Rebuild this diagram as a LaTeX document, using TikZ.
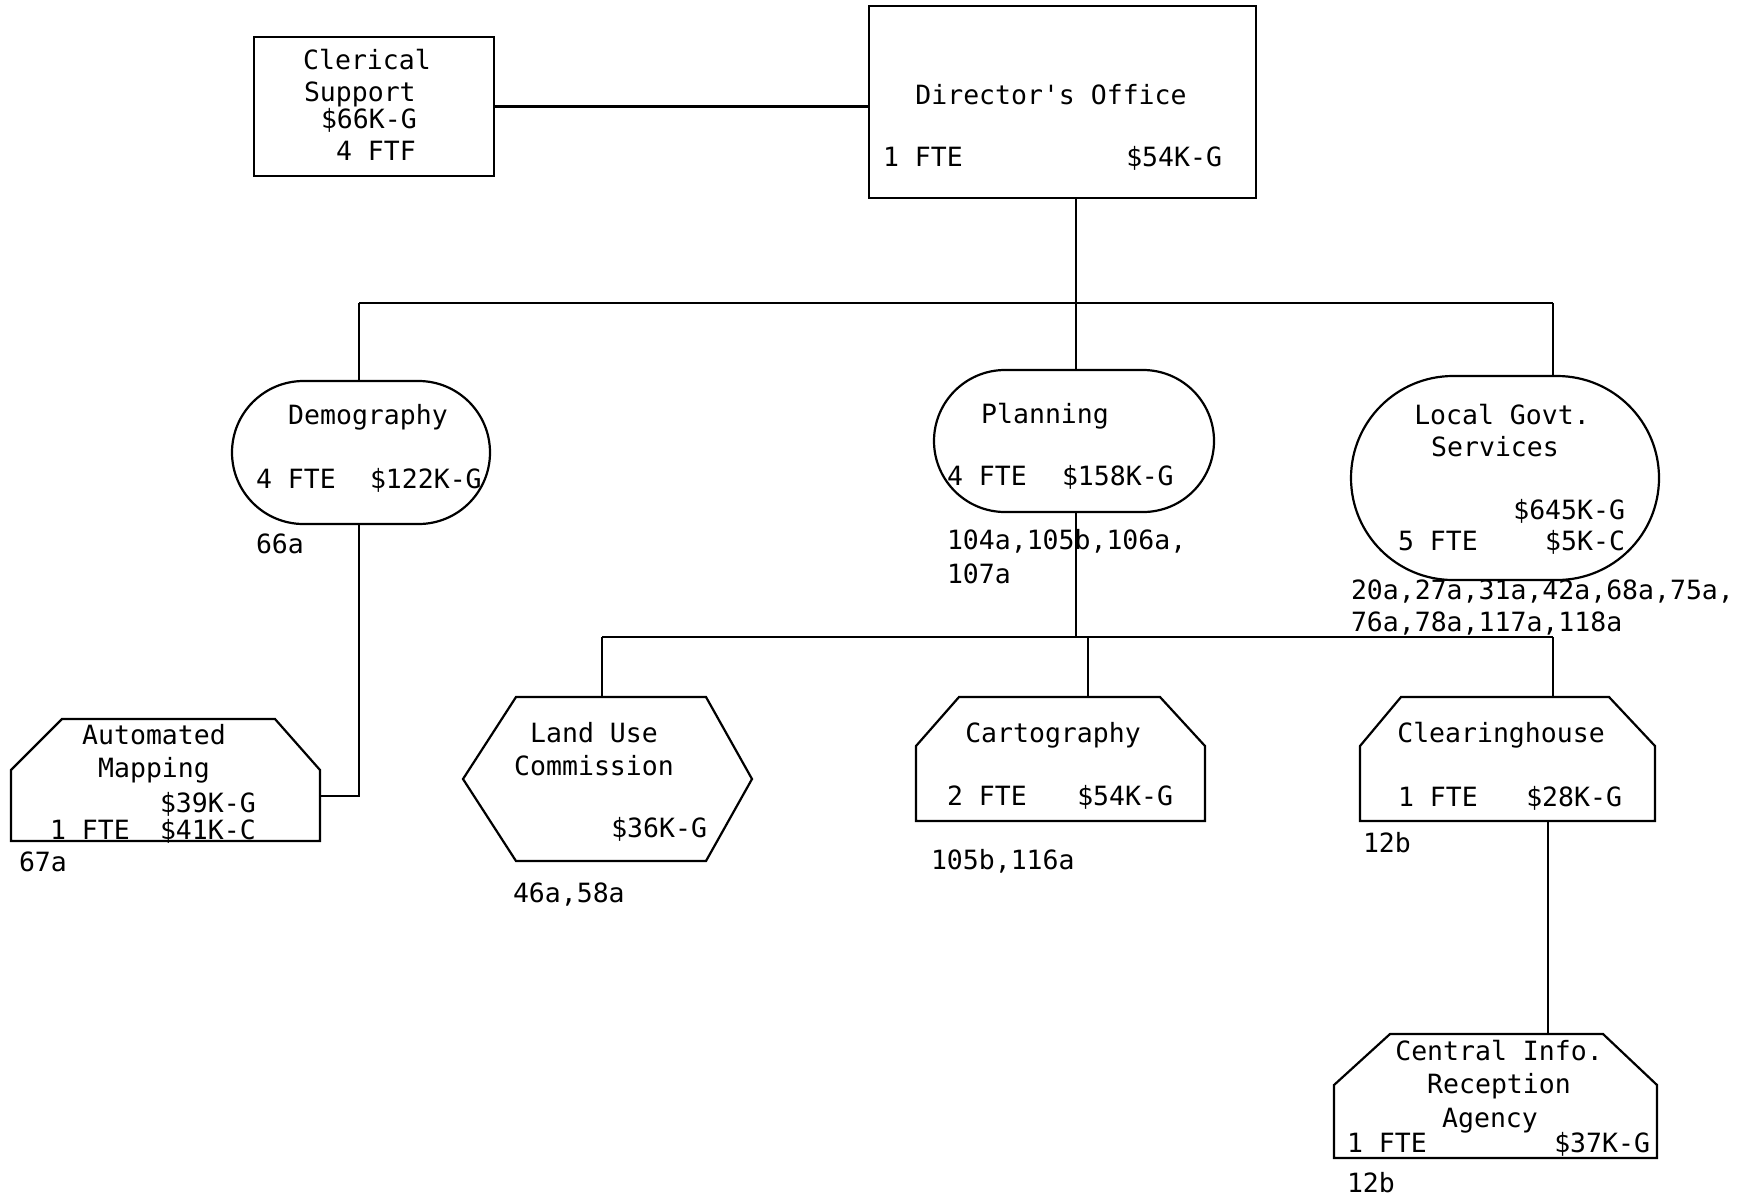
\documentclass[tikz,border=0pt]{standalone}
\usepackage{fontspec}
\setmonofont{DejaVu Sans Mono}
\usetikzlibrary{calc}
\newcommand\chamfbox[4]{\draw ($(#1.north west)+(#2,0)$) -- ($(#1.north east)+(-#3,0)$) -- ($(#1.north east)+(0,#4)$) -- (#1.south east) -- (#1.south west) -- ($(#1.north west)+(0,#4)$) -- cycle;}
\begin{document}
\begin{tikzpicture}[x=1pt,y=-1pt,line width=2.2pt,
  lbl/.style={font=\fontsize{26.5}{30}\selectfont\ttfamily,inner sep=0pt,outer sep=0pt},
  area/.style 2 args={minimum width=#1,minimum height=#2,inner sep=0pt,outer sep=0pt,draw=none},
  rbox/.style 2 args={minimum width=#1,minimum height=#2,inner sep=0pt,outer sep=0pt,draw},
  stad/.style n args={3}{minimum width=#1,minimum height=#2,inner sep=0pt,outer sep=0pt,draw,rounded corners=#3}]
\fill[white] (0,0) rectangle (1758,1195);
\useasboundingbox (0,0) rectangle (1758,1195);

% boxes
\node[rbox={240}{139}] (cler) at (374,106.5) {};
\node[rbox={387}{192}] (dir) at (1062.5,102) {};
\node[stad={258}{143}{71.5pt}] (demo) at (361,452.5) {};
\node[stad={280}{142}{71pt}] (plan) at (1074,441) {};
\node[stad={308}{204}{102pt}] (local) at (1505,478) {};
\node[area={309}{122}] (map) at (165.5,780) {};
\node[area={289}{164}] (land) at (607.5,779) {};
\node[area={289}{124}] (cart) at (1060.5,759) {};
\node[area={295}{124}] (clear) at (1507.5,759) {};
\node[area={323}{124}] (cent) at (1495.5,1096) {};

\chamfbox{map}{51}{45}{51}
\chamfbox{cart}{43}{45}{49}
\chamfbox{clear}{41}{46}{49}
\chamfbox{cent}{56}{54}{51}
\draw ($(land.north west)+(53,0)$) -- ($(land.north east)+(-46,0)$) -- (land.east) -- ($(land.south east)+(-46,0)$) -- ($(land.south west)+(53,0)$) -- (land.west) -- cycle;

% connectors
\coordinate (b1l) at (359,303);
\coordinate (b1m) at (1076,303);
\coordinate (b1r) at (1553,303);
\coordinate (b2l) at (602,637);
\coordinate (b2m) at (1076,637);
\coordinate (b2c) at (1088,637);
\coordinate (b2r) at (1553,637);
\coordinate (cdrop) at (1548,930);
\coordinate (dcorner) at (359,796);

\draw (cler.east) -- (cler.east -| dir.west);
\draw (dir.south -| b1m) -- (plan.north -| b1m);
\draw (b1l) -- (b1r);
\draw (b1l) -- (demo.north -| b1l);
\draw (b1r) -- (local.north -| b1r);
\draw (plan.south -| b2m) -- (b2m);
\draw (b2l) -- (b2r);
\draw (b2l) -- (land.north -| b2l);
\draw (b2c) -- (cart.north -| b2c);
\draw (b2r) -- (clear.north -| b2r);
\draw (clear.south -| cdrop) -- (cent.north -| cdrop);
\draw (demo.south -| dcorner) -- (dcorner) -- (dcorner -| map.east);

% texts
\node[lbl,anchor=base] (t1) at (367,69) {Clerical};
\node[lbl,anchor=base west] (t2) at (304,101) {Support};
\node[lbl,anchor=base west] (t3) at (321,128) {\$66K-G};
\node[lbl,anchor=base west] (t4) at (336,160) {4 FTF};

\node[lbl,anchor=base] (t5) at (1051,104) {Director's Office};
\node[lbl,anchor=base west] (t6) at (883,166) {1 FTE};
\node[lbl,anchor=base east] (t7) at (1222,166) {\$54K-G};

\node[lbl,anchor=base] (t8) at (368,424) {Demography};
\node[lbl,anchor=base west] (t9) at (256,488) {4 FTE};
\node[lbl,anchor=base west] (t10) at (370,488) {\$122K-G};
\node[lbl,anchor=base west] (t11) at (256,553) {66a};

\node[lbl,anchor=base] (t12) at (1045,423) {Planning};
\node[lbl,anchor=base west] (t13) at (947,485) {4 FTE};
\node[lbl,anchor=base west] (t14) at (1062,485) {\$158K-G};
\node[lbl,anchor=base west] (t15) at (947,549) {104a,105b,106a,};
\node[lbl,anchor=base west] (t16) at (947,583) {107a};

\node[lbl,anchor=base] (t17) at (1502,424) {Local Govt.};
\node[lbl,anchor=base] (t18) at (1495,456) {Services};
\node[lbl,anchor=base east] (t19) at (1625,519) {\$645K-G};
\node[lbl,anchor=base west] (t20) at (1398,550) {5 FTE};
\node[lbl,anchor=base east] (t21) at (1625,550) {\$5K-C};
\node[lbl,anchor=base west] (t22) at (1351,599) {20a,27a,31a,42a,68a,75a,};
\node[lbl,anchor=base west] (t23) at (1351,631) {76a,78a,117a,118a};

\node[lbl,anchor=base] (t24) at (154,744) {Automated};
\node[lbl,anchor=base] (t25) at (154,777) {Mapping};
\node[lbl,anchor=base west] (t26) at (160,812) {\$39K-G};
\node[lbl,anchor=base west] (t27) at (50,839) {1 FTE};
\node[lbl,anchor=base west] (t28) at (160,839) {\$41K-C};
\node[lbl,anchor=base west] (t29) at (19,871) {67a};

\node[lbl,anchor=base] (t30) at (594,742) {Land Use};
\node[lbl,anchor=base] (t31) at (594,775) {Commission};
\node[lbl,anchor=base east] (t32) at (707,837) {\$36K-G};
\node[lbl,anchor=base west] (t33) at (513,902) {46a,58a};

\node[lbl,anchor=base] (t34) at (1053,742) {Cartography};
\node[lbl,anchor=base west] (t35) at (947,805) {2 FTE};
\node[lbl,anchor=base east] (t36) at (1173,805) {\$54K-G};
\node[lbl,anchor=base west] (t37) at (931,869) {105b,116a};

\node[lbl,anchor=base] (t38) at (1501,742) {Clearinghouse};
\node[lbl,anchor=base west] (t39) at (1398,806) {1 FTE};
\node[lbl,anchor=base east] (t40) at (1622,806) {\$28K-G};
\node[lbl,anchor=base west] (t41) at (1363,852) {12b};

\node[lbl,anchor=base] (t42) at (1499,1060) {Central Info.};
\node[lbl,anchor=base] (t43) at (1499,1093) {Reception};
\node[lbl,anchor=base] (t44) at (1490,1127) {Agency};
\node[lbl,anchor=base west] (t45) at (1347,1152) {1 FTE};
\node[lbl,anchor=base east] (t46) at (1650,1152) {\$37K-G};
\node[lbl,anchor=base west] (t47) at (1347,1192) {12b};
\end{tikzpicture}
\end{document}
